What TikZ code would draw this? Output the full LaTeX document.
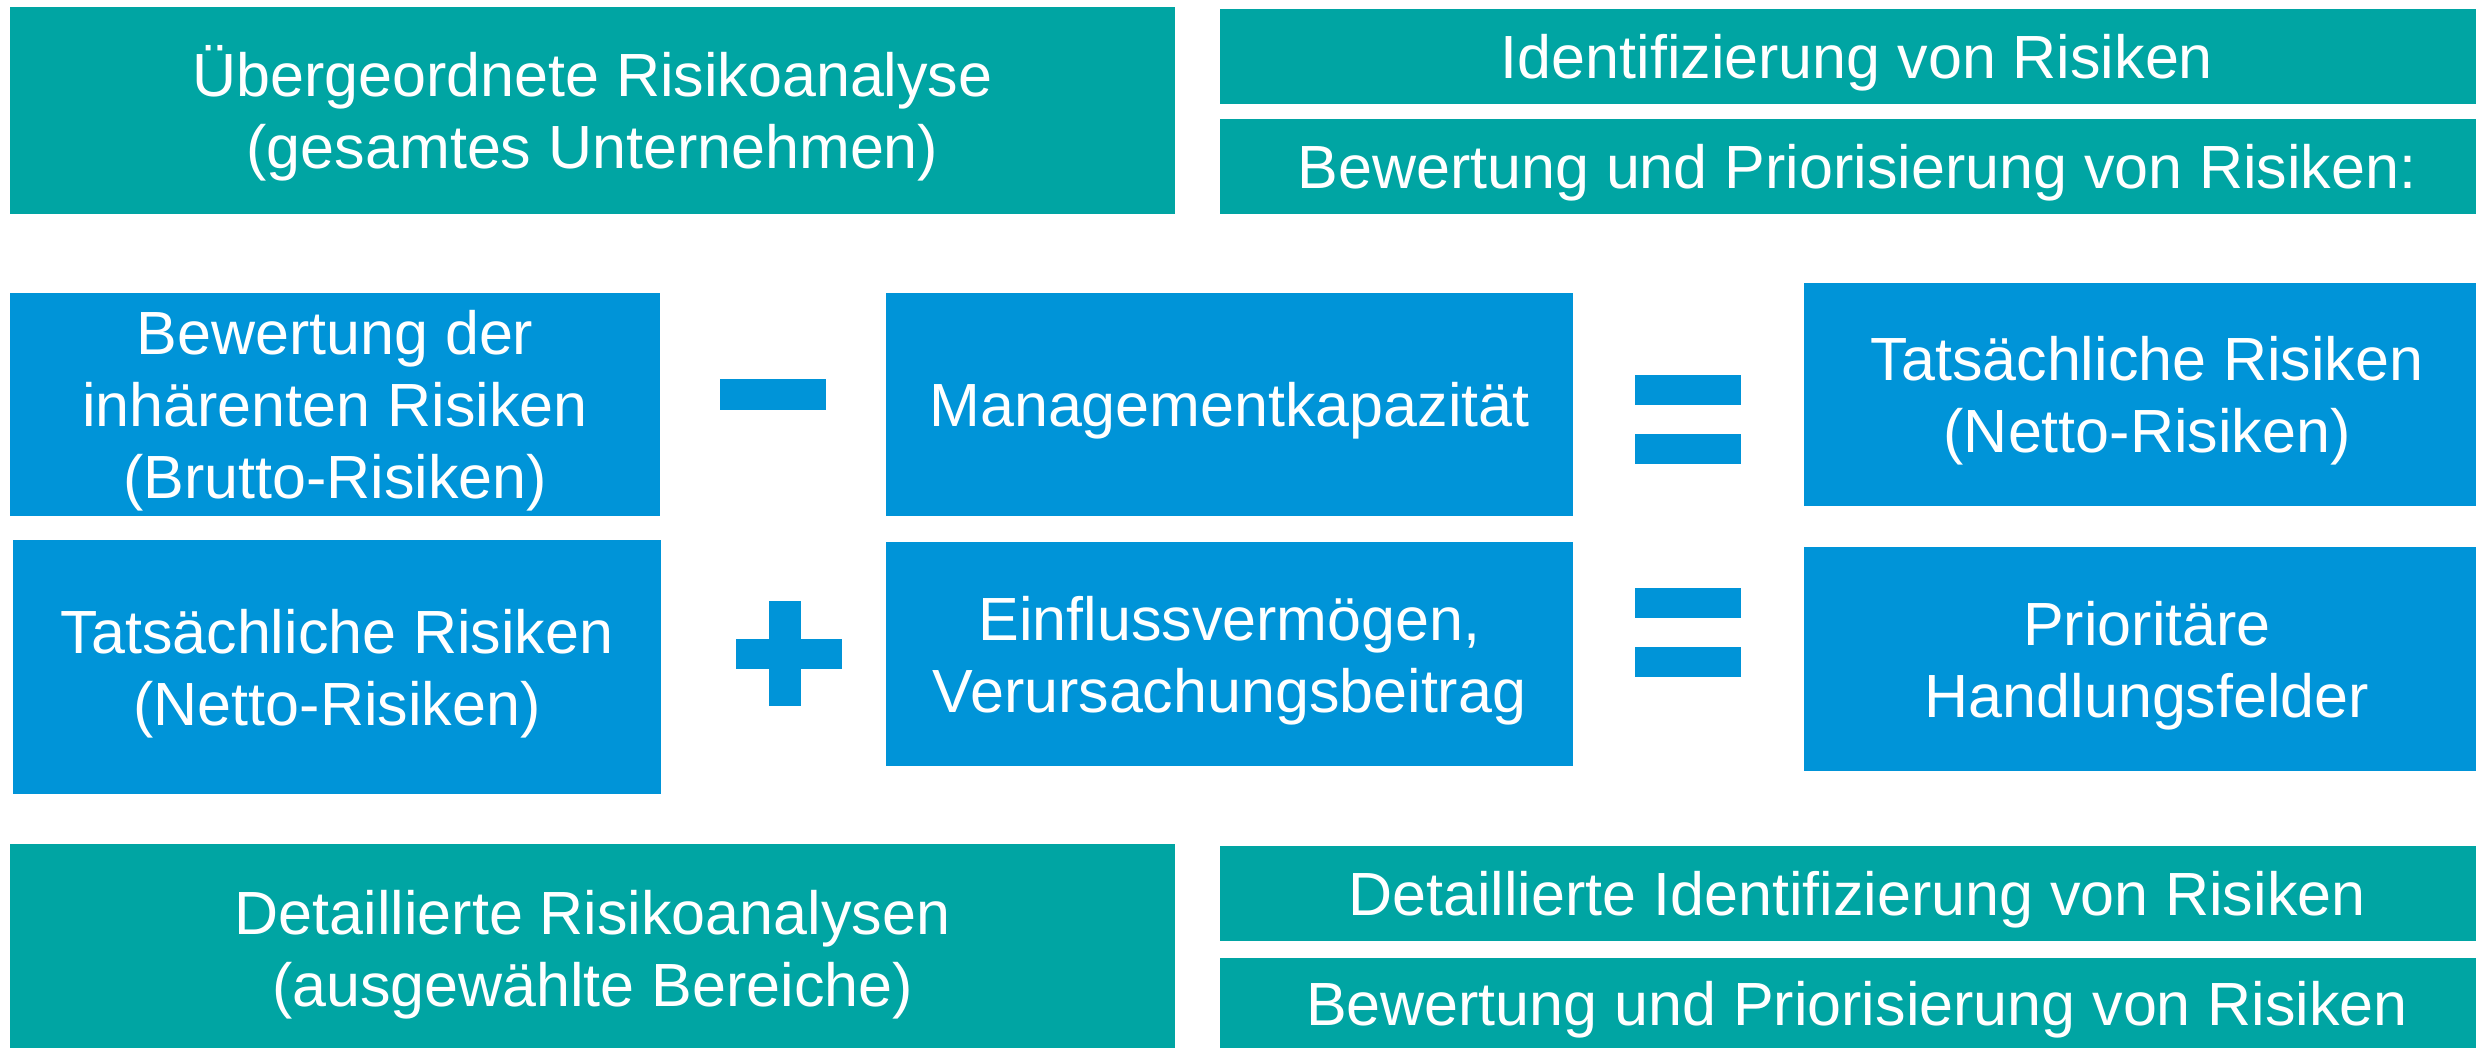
\documentclass[tikz,border=0pt]{standalone}
\usepackage{fontspec}
\setmainfont{Liberation Sans}
\definecolor{riskteal}{RGB}{0,165,163}
\definecolor{riskblue}{RGB}{0,148,216}
% cap-height strut for the first line, lines themselves smashed so that
% each box centres the block between cap top and last baseline
\newcommand\capline{\rule{0pt}{44pt}}
\newcommand\tline[1]{\smash{#1}}
\tikzset{
  box/.style={rectangle, inner sep=0pt, text=white, align=center,
    font=\fontsize{61pt}{72pt}\selectfont},
  tealbox/.style={box, fill=riskteal},
  bluebox/.style={box, fill=riskblue},
  opbar/.style={fill=riskblue},
}
\begin{document}
\begin{tikzpicture}[x=1pt, y=-1pt]
\useasboundingbox (0,0) rectangle (2476,1047);

% overall analysis (top row)
\node[tealbox, minimum width=1165pt, minimum height=207pt] (ana) at (592.5,110.5)
  {\capline\tline{Übergeordnete Risikoanalyse}\\\tline{(gesamtes Unternehmen)}};
\node[tealbox, minimum width=1274pt, minimum height=95pt] (ident) at (1857,56.5)
  {\capline\tline{Identifizierung von Risiken}};
\node[tealbox, minimum width=1274pt, minimum height=95pt] (bewprio) at (1857,166.5)
  {\capline\tline{Bewertung und Priorisierung von Risiken:}};

% first equation: gross risks - management capacity = net risks
\node[bluebox, minimum width=650pt, minimum height=223pt] (brutto) at (335,404.5)
  {\capline\tline{Bewertung der}\\\tline{inhärenten Risiken}\\\tline{(Brutto-Risiken)}};
\node[bluebox, minimum width=687pt, minimum height=223pt] (mgmt) at (1229.5,404.5)
  {\capline\tline{Managementkapazität}};
\node[bluebox, minimum width=686pt, minimum height=223pt] (netto) at (2147,394.5)
  {\capline\tline{Tatsächliche Risiken}\\\tline{(Netto-Risiken)}};

% second equation: net risks + influence = priority fields
\node[bluebox, minimum width=648pt, minimum height=254pt] (nettoL) at (337,667)
  {\capline\tline{Tatsächliche Risiken}\\\tline{(Netto-Risiken)}};
\node[bluebox, minimum width=687pt, minimum height=224pt] (einfluss) at (1229.5,654)
  {\capline\tline{Einflussvermögen,}\\\tline{Verursachungsbeitrag}};
\node[bluebox, minimum width=686pt, minimum height=224pt] (prio) at (2147,659)
  {\capline\tline{Prioritäre}\\\tline{Handlungsfelder}};

% operators
\fill[opbar] (720,379) rectangle (826,410);
\fill[opbar] (736,639) rectangle (842,669);
\fill[opbar] (769,601) rectangle (801,706);
\fill[opbar] (1635,375) rectangle (1741,405);
\fill[opbar] (1635,434) rectangle (1741,464);
\fill[opbar] (1635,588) rectangle (1741,618);
\fill[opbar] (1635,647) rectangle (1741,677);

% detailed analyses (bottom row)
\node[tealbox, minimum width=1165pt, minimum height=208pt] (det) at (592.5,948)
  {\capline\tline{Detaillierte Risikoanalysen}\\\tline{(ausgewählte Bereiche)}};
\node[tealbox, minimum width=1274pt, minimum height=95pt] (detident) at (1857,893.5)
  {\capline\tline{Detaillierte Identifizierung von Risiken}};
\node[tealbox, minimum width=1274pt, minimum height=90pt] (detbew) at (1857,1003)
  {\capline\tline{Bewertung und Priorisierung von Risiken}};
\end{tikzpicture}
\end{document}
